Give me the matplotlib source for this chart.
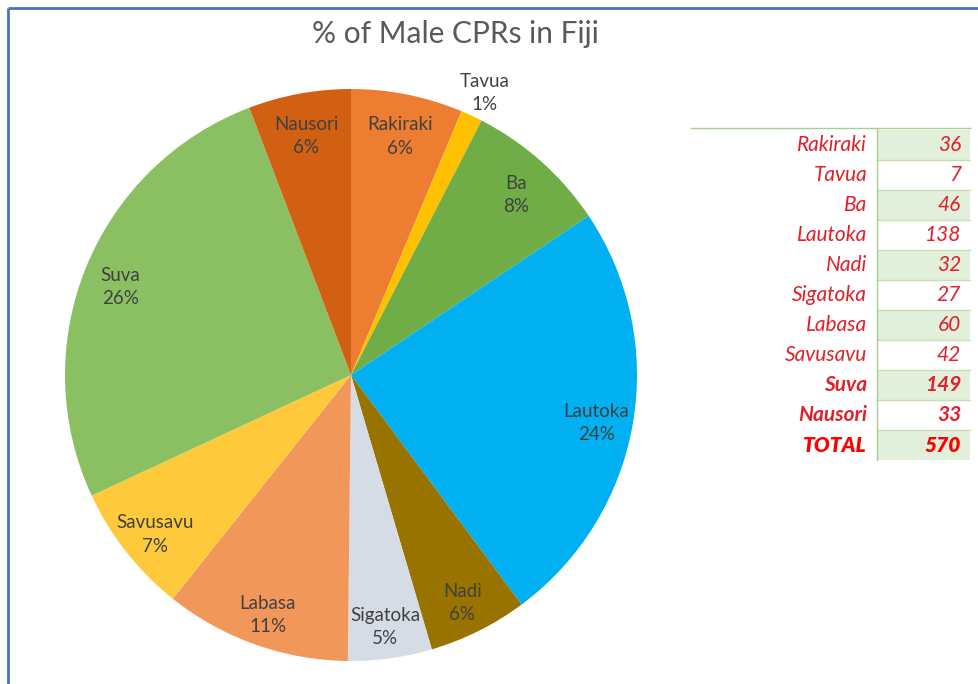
import numpy as np
import matplotlib
matplotlib.use('Agg')
import matplotlib.pyplot as plt
from matplotlib.patches import Rectangle

# data (clockwise from 12 o'clock)
towns = ["Rakiraki", "Tavua", "Ba", "Lautoka", "Nadi", "Sigatoka",
         "Labasa", "Savusavu", "Suva", "Nausori"]
cprs = [36, 7, 46, 138, 32, 27, 60, 42, 149, 33]
total_label = "TOTAL"
total_value = 570

colors = ["#ED7D31", "#FFC000", "#70AD47", "#00B0F0", "#997300", "#D6DCE5",
          "#F1975A", "#FFC93C", "#8BC062", "#D26012"]

W, H = 979, 684
fig = plt.figure(figsize=(W / 100, H / 100), dpi=100)

# background axes in pixel coords for frame + table
bg = fig.add_axes([0, 0, 1, 1])
bg.set_xlim(0, W)
bg.set_ylim(H, 0)
bg.axis('off')

# blue chart border (left and top only visible)
bg.plot([8, 8], [H, 8], color="#4472C4", lw=2, solid_capstyle='butt')
bg.plot([8, W], [8, 8], color="#4472C4", lw=2, solid_capstyle='butt')

# title
fig.text(455 / W, 1 - 34 / H, "% of Male CPRs in Fiji", ha='center', va='center',
         fontsize=21.5, color="#595959", family="Lato")

# pie
cx, cy, R = 351, 375, 286
box = 300
ax = fig.add_axes([(cx - box) / W, (H - cy - box) / H, 2 * box / W, 2 * box / H])
wedges, _ = ax.pie(cprs, colors=colors, startangle=90, counterclock=False,
                   radius=1, wedgeprops=dict(linewidth=0))
lim = box / R
ax.set_xlim(-lim, lim)
ax.set_ylim(-lim, lim)
ax.set_aspect('equal')
ax.axis('off')

total = sum(cprs)
label_r = {"Tavua": 1.11}
for w, name, v in zip(wedges, towns, cprs):
    ang = np.deg2rad((w.theta1 + w.theta2) / 2)
    r = label_r.get(name, 0.87)
    pct = "%d%%" % round(100 * v / total)
    ax.annotate(name + "\n" + pct, (r * np.cos(ang), r * np.sin(ang)),
                xytext=(0, -4), textcoords='offset points', ha='center', va='center',
                fontsize=13.5, color="#404040", family="Lato", linespacing=1.45)

# table
row_h = 30
top = 128
xl, xm, xr = 691, 877, 970
bg.plot([xl, xr], [top, top], color="#A9D08E", lw=1)
rows = list(zip(towns, cprs)) + [(total_label, total_value)]
for i, (name, v) in enumerate(rows):
    y0 = top + 2 + i * row_h
    if i % 2 == 0:
        bg.add_patch(Rectangle((xm, y0), xr - xm, row_h, facecolor="#E2EFDA", edgecolor='none'))
    if i > 0:
        bg.plot([xm, xr], [y0, y0], color="#C6E0B4", lw=1)
    yc = y0 + row_h / 2
    if name == total_label:
        col, wt = "#FF0000", 'heavy'
    elif name in ("Suva", "Nausori"):
        col, wt = "#E0202A", 'bold'
    else:
        col, wt = "#E0202A", 'normal'
    bg.text(867, yc, name, ha='right', va='center', fontsize=15, style='italic',
            weight=wt, color=col, family="Lato")
    bg.text(961, yc, str(v), ha='right', va='center', fontsize=15, style='italic',
            weight=wt, color=col, family="Lato")
bg.plot([xm, xm], [top, top + 2 + len(rows) * row_h], color="#A9D08E", lw=1)

fig.savefig("out.png", dpi=100)
